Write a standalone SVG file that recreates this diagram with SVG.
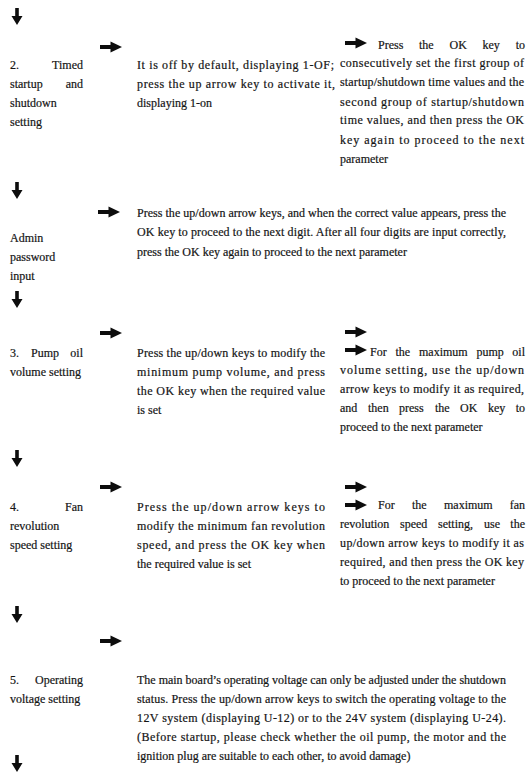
<svg xmlns="http://www.w3.org/2000/svg" width="532" height="775" viewBox="0 0 532 775">
  <style>
    text { font-family: "Liberation Serif", "Times New Roman", serif; font-size: 12px; fill: #141414; stroke: #141414; stroke-width: 0.2; }
    .e { text-anchor: end; }
    .arr { fill: #0d0d0d; }
  </style>
  <defs>
    <path id="down" class="arr" d="M-1.8,0 H1.8 V8 H5.5 L0,17 L-5.5,8 H-1.8 Z"/>
    <path id="right" class="arr" d="M0,-2 H10.5 V-5.5 L22,0 L10.5,5.5 V2 H0 Z"/>
  </defs>
  <rect width="532" height="775" fill="#fff"/>

  <g id="connectors">
    <use href="#down" x="17" y="8"/>
    <use href="#right" x="100" y="47"/>
    <use href="#right" x="345" y="43"/>
    <use href="#down" x="17" y="182"/>
    <use href="#right" x="98" y="212"/>
    <use href="#down" x="17" y="291"/>
    <use href="#right" x="100" y="333"/>
    <use href="#right" x="345" y="332"/>
    <use href="#right" x="345" y="350"/>
    <use href="#down" x="17" y="450"/>
    <use href="#right" x="100" y="487"/>
    <use href="#right" x="345" y="487"/>
    <use href="#right" x="345" y="505"/>
    <use href="#down" x="17" y="606"/>
    <use href="#right" x="100" y="641"/>
    <use href="#down" x="17" y="755"/>
  </g>

  <g id="step2-label">
    <text x="10" y="69">2.</text><text class="e" x="83" y="69">Timed</text>
    <text x="10" y="88">startup</text><text class="e" x="83" y="88">and</text>
    <text x="10" y="107">shutdown</text>
    <text x="10" y="126">setting</text>
  </g>
  <g id="step2-default">
    <text x="137" y="69" textLength="197" lengthAdjust="spacing">It is off by default, displaying 1-OF;</text>
    <text x="137" y="88" textLength="198" lengthAdjust="spacing">press the up arrow key to activate it,</text>
    <text x="137" y="107">displaying 1-on</text>
  </g>
  <g id="step2-times">
    <text y="49"><tspan x="378">Press</tspan><tspan x="419">the</tspan><tspan x="449.5">OK</tspan><tspan x="482.5">key</tspan></text><text class="e" x="525" y="49">to</text>
    <text x="340" y="67" textLength="184" lengthAdjust="spacing">consecutively set the first group of</text>
    <text x="340" y="86" textLength="184" lengthAdjust="spacing">startup/shutdown time values and the</text>
    <text x="340" y="105.5" textLength="184" lengthAdjust="spacing">second group of startup/shutdown</text>
    <text x="340" y="124" textLength="184" lengthAdjust="spacing">time values, and then press the OK</text>
    <text x="340" y="143.5" textLength="184" lengthAdjust="spacing">key again to proceed to the next</text>
    <text x="340" y="162.5">parameter</text>
  </g>

  <g id="admin-label">
    <text x="10" y="242">Admin</text>
    <text x="10" y="261">password</text>
    <text x="10" y="280">input</text>
  </g>
  <g id="admin-input">
    <text x="137" y="216.5" textLength="369" lengthAdjust="spacing">Press the up/down arrow keys, and when the correct value appears, press the</text>
    <text x="137" y="236" textLength="369" lengthAdjust="spacing">OK key to proceed to the next digit. After all four digits are input correctly,</text>
    <text x="137" y="255.5">press the OK key again to proceed to the next parameter</text>
  </g>

  <g id="step3-label">
    <text y="357"><tspan x="10">3.</tspan><tspan x="31">Pump</tspan></text><text class="e" x="83" y="357">oil</text>
    <text x="10" y="376">volume setting</text>
  </g>
  <g id="step3-min">
    <text x="137" y="356.5" textLength="188" lengthAdjust="spacing">Press the up/down keys to modify the</text>
    <text x="137" y="375.5" textLength="188" lengthAdjust="spacing">minimum pump volume, and press</text>
    <text x="137" y="395" textLength="188" lengthAdjust="spacing">the OK key when the required value</text>
    <text x="137" y="414">is set</text>
  </g>
  <g id="step3-max">
    <text y="355.5"><tspan x="370">For</tspan><tspan x="395.5">the</tspan><tspan x="419">maximum</tspan><tspan x="476.5">pump</tspan></text><text class="e" x="525" y="355.5">oil</text>
    <text x="340" y="374" textLength="184" lengthAdjust="spacing">volume setting, use the up/down</text>
    <text x="340" y="393" textLength="184" lengthAdjust="spacing">arrow keys to modify it as required,</text>
    <text y="412"><tspan x="340">and</tspan><tspan x="368">then</tspan><tspan x="399">press</tspan><tspan x="435">the</tspan><tspan x="460">OK</tspan><tspan x="488">key</tspan></text><text class="e" x="525" y="412">to</text>
    <text x="340" y="431">proceed to the next parameter</text>
  </g>

  <g id="step4-label">
    <text x="10" y="510.5">4.</text><text class="e" x="83" y="510.5">Fan</text>
    <text x="10" y="529.5">revolution</text>
    <text x="10" y="548.5">speed setting</text>
  </g>
  <g id="step4-min">
    <text x="137" y="510.5" textLength="188" lengthAdjust="spacing">Press the up/down arrow keys to</text>
    <text x="137" y="529.5" textLength="188" lengthAdjust="spacing">modify the minimum fan revolution</text>
    <text x="137" y="548.5" textLength="188" lengthAdjust="spacing">speed, and press the OK key when</text>
    <text x="137" y="568">the required value is set</text>
  </g>
  <g id="step4-max">
    <text y="508.5"><tspan x="378">For</tspan><tspan x="412">the</tspan><tspan x="444">maximum</tspan></text><text class="e" x="525" y="508.5">fan</text>
    <text y="527.5"><tspan x="340">revolution</tspan><tspan x="400">speed</tspan><tspan x="438">setting,</tspan><tspan x="484">use</tspan></text><text class="e" x="525" y="527.5">the</text>
    <text x="340" y="546.5" textLength="184" lengthAdjust="spacing">up/down arrow keys to modify it as</text>
    <text x="340" y="566" textLength="184" lengthAdjust="spacing">required, and then press the OK key</text>
    <text x="340" y="585">to proceed to the next parameter</text>
  </g>

  <g id="step5-label">
    <text x="10" y="683.5">5.</text><text class="e" x="83" y="683.5">Operating</text>
    <text x="10" y="702.5">voltage setting</text>
  </g>
  <g id="step5-voltage">
    <text x="137" y="683.5" textLength="369" lengthAdjust="spacing">The main board’s operating voltage can only be adjusted under the shutdown</text>
    <text x="137" y="702.5" textLength="369" lengthAdjust="spacing">status. Press the up/down arrow keys to switch the operating voltage to the</text>
    <text x="137" y="721.5" textLength="369" lengthAdjust="spacing">12V system (displaying U-12) or to the 24V system (displaying U-24).</text>
    <text x="137" y="740.5" textLength="369" lengthAdjust="spacing">(Before startup, please check whether the oil pump, the motor and the</text>
    <text x="137" y="759.5">ignition plug are suitable to each other, to avoid damage)</text>
  </g>
</svg>
